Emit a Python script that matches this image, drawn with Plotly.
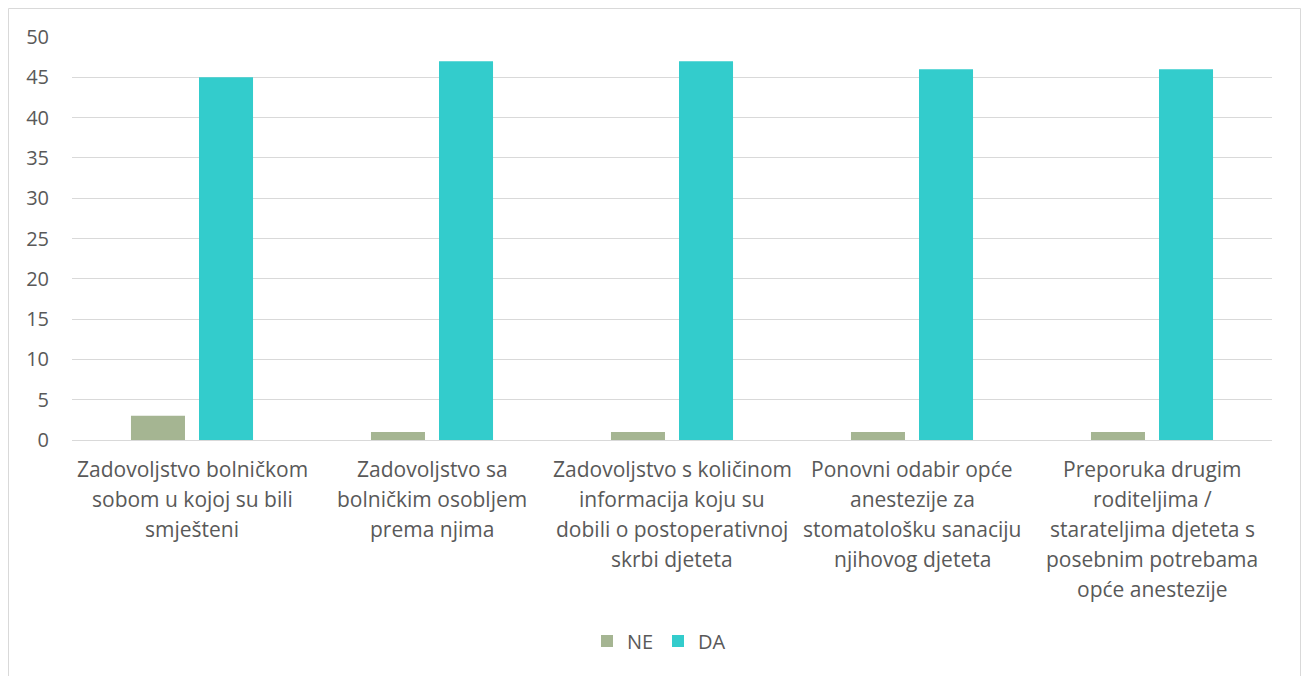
import plotly.graph_objects as go

categories = [
    "Zadovoljstvo bolničkom<br>sobom u kojoj su bili<br>smješteni",
    "Zadovoljstvo sa<br>bolničkim osobljem<br>prema njima",
    "Zadovoljstvo s količinom<br>informacija koju su<br>dobili o postoperativnoj<br>skrbi djeteta",
    "Ponovni odabir opće<br>anestezije za<br>stomatološku sanaciju<br>njihovog djeteta",
    "Preporuka drugim<br>roditeljima /<br>starateljima djeteta s<br>posebnim potrebama<br>opće anestezije",
]
ne_values = [3, 1, 1, 1, 1]
da_values = [45, 47, 47, 46, 46]
y_ticks = [0, 5, 10, 15, 20, 25, 30, 35, 40, 45, 50]

W, H = 1306, 676
L, R, T, B = 72, 34, 37, 236
pw, ph = W - L - R, H - T - B

fig = go.Figure()
fig.add_trace(go.Bar(name="NE", x=categories, y=ne_values, marker=dict(color="#A5B592", line=dict(width=0))))
fig.add_trace(go.Bar(name="DA", x=categories, y=da_values, marker=dict(color="#33CCCC", line=dict(width=0))))

font = "Open Sans, Noto Sans, sans-serif"
fs = 20
txt = "#595959"

annotations = []
for cat in categories:
    for i, line in enumerate(cat.split("<br>")):
        annotations.append(dict(x=cat, xref="x", y=0, yref="paper", text=line, showarrow=False,
                                xanchor="center", yanchor="middle", yshift=-(29 + 30 * i),
                                font=dict(family=font, size=21, color=txt)))

fig.update_layout(
    width=W, height=H,
    margin=dict(l=L, r=R, t=T, b=B, pad=0),
    paper_bgcolor="white", plot_bgcolor="white",
    barmode="group", bargap=0.433, bargroupgap=0.206,
    font=dict(family=font, size=fs, color=txt),
    legend=dict(orientation="h", x=0.5 - 14 / pw, xanchor="center", y=(H - 641 - B) / ph, yanchor="middle",
                font=dict(size=fs, color=txt), entrywidth=26, entrywidthmode="pixels",
                traceorder="normal"),
    xaxis=dict(showgrid=False, showline=True, linecolor="#D9D9D9", linewidth=1, ticks="",
               showticklabels=False),
    yaxis=dict(range=[0, 50], tickvals=y_ticks, showgrid=True, gridcolor="#D9D9D9", gridwidth=1,
               zeroline=False, showline=False, ticks="", ticklabelstandoff=22,
               tickfont=dict(size=fs, color=txt)),
    annotations=annotations,
    shapes=[dict(type="rect", xref="paper", yref="paper",
                 x0=(8.5 - L) / pw, x1=(1300.5 - L) / pw,
                 y0=(H - 690 - B) / ph, y1=(H - 8.5 - B) / ph,
                 line=dict(color="#D9D9D9", width=1), fillcolor="rgba(0,0,0,0)", layer="below")],
)
fig.write_html("out.html", config={"displayModeBar": False},
               post_script="document.body.style.margin='0';document.body.style.overflow='hidden';")
